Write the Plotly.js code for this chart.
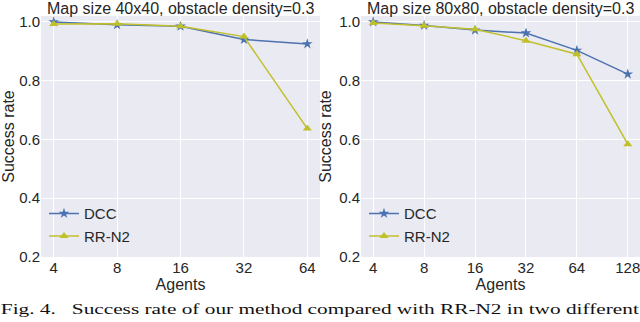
<!DOCTYPE html>
<html><head><meta charset="utf-8">
<script src="https://cdn.plot.ly/plotly-3.0.1.min.js"></script>
<style>html,body{margin:0;padding:0;background:#fff}#c{width:640px;height:322px}</style>
</head><body><div id="c"></div>
<script>
const agents40 = ['4','8','16','32','64'];
const dcc40 = [1.0, 0.99, 0.985, 0.94, 0.925];
const rr40  = [0.993, 0.994, 0.985, 0.95, 0.637];
const agents80 = ['4','8','16','32','64','128'];
const dcc80 = [1.0, 0.988, 0.972, 0.962, 0.903, 0.822];
const rr80  = [0.996, 0.987, 0.975, 0.936, 0.89, 0.584];
const yTicks = [0.2, 0.4, 0.6, 0.8, 1.0];
const titles = ['Map size 40x40, obstacle density=0.3', 'Map size 80x80, obstacle density=0.3'];
const caption = 'Fig. 4.\u00a0\u00a0\u00a0Success rate of our method compared with RR-N2 in two different';

const blue = '#4c72b0', yel = '#c0c02c', txt = '#262626';
const F = 'Liberation Sans, Arial, sans-serif';
function tr(x, y, name, color, sym, xa, ya, leg) {
  return {x: x, y: y, name: name, type: 'scatter', mode: 'lines+markers',
    line: {color: color, width: 1.5}, marker: {symbol: sym, size: 8, color: color},
    xaxis: xa, yaxis: ya, legend: leg};
}
const data = [
  tr(agents40, dcc40, 'DCC', blue, 'star', 'x', 'y', 'legend'),
  tr(agents40, rr40, 'RR-N2', yel, 'triangle-up', 'x', 'y', 'legend'),
  tr(agents80, dcc80, 'DCC', blue, 'star', 'x2', 'y2', 'legend2'),
  tr(agents80, rr80, 'RR-N2', yel, 'triangle-up', 'x2', 'y2', 'legend2')
];
const W = 599;
const d1 = [0, 279 / W], d2 = [320 / W, 1];
function xax(dom, n, anchor) {
  return {domain: dom, anchor: anchor, type: 'category', range: [-0.2, n - 1 + 0.2],
    showgrid: true, gridcolor: '#ffffff', gridwidth: 1, zeroline: false, showline: false,
    ticks: '', tickfont: {family: F, size: 15, color: txt},
    title: {text: 'Agents', font: {family: F, size: 16, color: txt}, standoff: 2}};
}
function yax(anchor) {
  return {anchor: anchor, range: [0.2, 1.02], tickvals: yTicks, ticktext: yTicks.map(v => v.toFixed(1)),
    showgrid: true, gridcolor: '#ffffff', gridwidth: 1, zeroline: false, showline: false,
    ticks: '', tickfont: {family: F, size: 15, color: txt},
    title: {text: 'Success rate', font: {family: F, size: 16, color: txt}, standoff: 3}};
}
const xa2 = xax(d2, 6, 'y2'); xa2.range = [-0.24, 5.24];
const leg = (x) => ({x: x, y: 0.02, xanchor: 'left', yanchor: 'bottom', bgcolor: 'rgba(0,0,0,0)',
  font: {family: F, size: 15, color: txt}, tracegroupgap: 0, itemwidth: 30});
const layout = {
  width: 640, height: 322, margin: {l: 41, r: 0, t: 16, b: 65},
  paper_bgcolor: '#ffffff', plot_bgcolor: '#eaeaf2', showlegend: true,
  font: {family: F, color: txt},
  xaxis: xax(d1, 5, 'y'), yaxis: yax('x'),
  xaxis2: xa2, yaxis2: yax('x2'),
  legend: leg(0.005), legend2: leg(320 / W + 0.005),
  annotations: [
    {text: titles[0], xref: 'paper', yref: 'paper', x: (d1[0] + d1[1]) / 2, xanchor: 'center', y: 1, yanchor: 'bottom', yshift: -3,
      showarrow: false, font: {family: F, size: 16, color: txt}},
    {text: titles[1], xref: 'paper', yref: 'paper', x: (d2[0] + d2[1]) / 2, xanchor: 'center', y: 1, yanchor: 'bottom', yshift: -3,
      showarrow: false, font: {family: F, size: 16, color: txt}},
    {text: caption, xref: 'paper', yref: 'paper', x: (319.5 - 41) / W, y: 0, xanchor: 'center', yanchor: 'middle',
      yshift: -52, showarrow: false, font: {family: 'Liberation Serif, Times New Roman, serif', size: 15, color: '#111'}}
  ]
};
Plotly.newPlot('c', data, layout, {displayModeBar: false, staticPlot: true}).then(function (gd) {
  const texts = gd.querySelectorAll('.annotation-text');
  texts.forEach(function (t) {
    if (t.textContent.indexOf('Fig. 4.') === 0) {
      t.setAttribute('textLength', '638');
      t.setAttribute('lengthAdjust', 'spacingAndGlyphs');
    }
  });
});
</script></body></html>
